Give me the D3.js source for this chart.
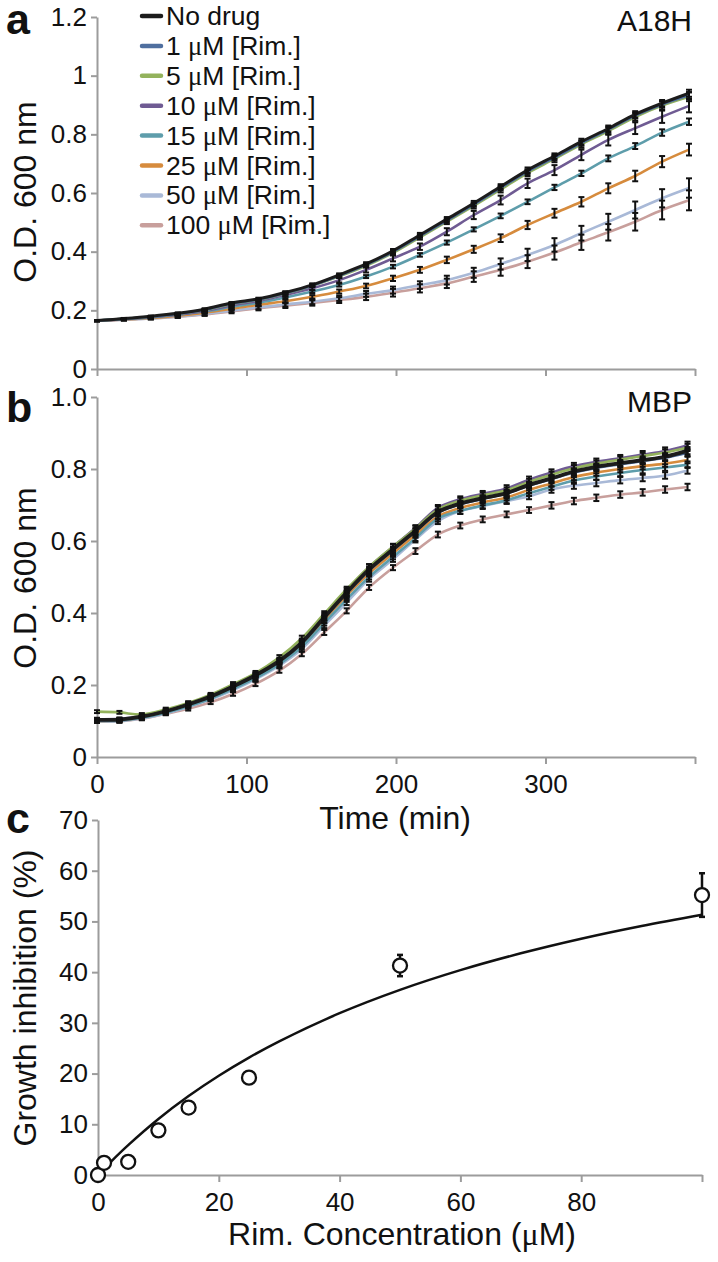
<!DOCTYPE html>
<html><head><meta charset="utf-8">
<script src="https://cdn.jsdelivr.net/npm/d3@7"></script>
<style>
body{margin:0;background:#fff;}
svg{display:block;font-family:"Liberation Sans",Arial,Helvetica,sans-serif;}
</style></head><body>
<svg id="chart" width="718" height="1262"></svg>
<script>
// ---------- DATA ----------
const seriesLabels = ["No drug", "1", "5", "10", "15", "25", "50", "100"];
const seriesColors = ["#1c1c1c", "#4f6f9f", "#93b25c", "#6f5b93", "#5e9dab", "#d68b3d", "#a9b9d7", "#c89f9c"];

const timesA = [0,18,36,54,72,90,108,126,144,162,180,198,216,234,252,270,288,306,324,342,360,378,396];
const odA_noDrug = [.165,.172,.180,.190,.204,.225,.239,.261,.287,.321,.358,.403,.457,.511,.565,.622,.678,.726,.775,.820,.868,.906,.940];
const odA_1  = [.165,.171,.178,.188,.202,.223,.237,.259,.285,.318,.355,.399,.453,.506,.560,.617,.673,.721,.770,.816,.864,.902,.933];
const odA_5  = [.165,.171,.178,.188,.201,.222,.236,.258,.284,.316,.352,.396,.449,.502,.556,.612,.668,.716,.766,.811,.859,.898,.928];
const odA_10 = [.165,.170,.177,.186,.198,.217,.232,.252,.275,.303,.338,.377,.417,.468,.525,.576,.633,.678,.730,.781,.821,.860,.897];
const odA_15 = [.165,.170,.176,.185,.196,.212,.226,.244,.264,.286,.315,.349,.389,.431,.476,.522,.570,.619,.667,.718,.760,.806,.843];
const odA_25 = [.165,.169,.174,.182,.192,.205,.219,.231,.246,.264,.283,.309,.338,.372,.408,.446,.491,.531,.570,.616,.658,.707,.748];
const odA_50 = [.165,.168,.172,.179,.188,.199,.210,.220,.229,.241,.256,.269,.286,.303,.328,.358,.389,.423,.463,.502,.542,.582,.617];
const odA_100= [.165,.168,.172,.178,.186,.196,.207,.216,.225,.235,.246,.260,.275,.292,.315,.338,.366,.397,.432,.466,.502,.542,.575];

const errA_noDrug = [.002,.002,.002,.003,.003,.003,.004,.004,.005,.005,.006,.006,.007,.007,.008,.008,.009,.009,.010,.010,.011,.011,.012];
const errA_1  = [.002,.002,.002,.002,.003,.003,.003,.004,.004,.005,.005,.006,.006,.007,.007,.008,.008,.009,.009,.010,.010,.011,.011];
const errA_5  = [.002,.002,.003,.003,.003,.004,.004,.005,.005,.006,.006,.007,.008,.008,.009,.010,.010,.011,.012,.012,.013,.014,.015];
const errA_10 = [.002,.002,.003,.003,.004,.004,.005,.006,.007,.008,.009,.010,.011,.012,.014,.015,.016,.017,.018,.019,.020,.021,.022];
const errA_15 = [.002,.002,.002,.003,.003,.003,.004,.004,.005,.005,.005,.006,.006,.007,.007,.008,.008,.009,.009,.010,.010,.011,.011];
const errA_25 = [.002,.002,.003,.003,.004,.004,.005,.005,.006,.007,.008,.009,.010,.011,.012,.013,.014,.015,.016,.017,.018,.019,.020];
const errA_50 = [.002,.003,.003,.004,.005,.005,.006,.007,.008,.009,.010,.012,.013,.015,.017,.019,.021,.023,.025,.027,.029,.031,.033];
const errA_100= [.002,.003,.003,.004,.005,.006,.007,.008,.009,.010,.011,.013,.014,.016,.018,.020,.022,.024,.026,.028,.030,.032,.034];

const timesB = [0,15,30,46,61,76,91,106,122,137,152,167,182,198,213,228,243,258,274,289,304,319,334,350,365,380,395];
const odB_noDrug = [.103,.104,.112,.127,.146,.168,.196,.227,.267,.318,.388,.457,.521,.577,.628,.680,.704,.719,.733,.756,.774,.793,.806,.816,.825,.834,.851];
const odB_1  = [.102,.104,.112,.127,.146,.168,.196,.226,.265,.316,.386,.454,.518,.574,.626,.678,.702,.717,.732,.754,.772,.790,.803,.813,.822,.831,.845];
const odB_5  = [.126,.124,.118,.132,.150,.173,.202,.233,.277,.330,.398,.466,.528,.584,.634,.688,.712,.727,.741,.764,.784,.802,.815,.826,.836,.846,.860];
const odB_10 = [.105,.106,.114,.129,.148,.170,.198,.229,.270,.322,.393,.462,.527,.584,.636,.692,.716,.731,.746,.770,.790,.808,.820,.830,.840,.850,.866];
const odB_15 = [.100,.101,.109,.123,.141,.162,.189,.219,.258,.306,.372,.438,.500,.556,.608,.662,.684,.699,.713,.733,.751,.768,.779,.789,.797,.804,.812];
const odB_25 = [.100,.102,.110,.125,.143,.165,.192,.222,.262,.312,.380,.448,.510,.566,.617,.668,.692,.707,.721,.742,.760,.778,.790,.800,.808,.815,.825];
const odB_50 = [.099,.100,.107,.121,.139,.160,.186,.216,.254,.300,.365,.429,.494,.549,.604,.655,.683,.697,.711,.724,.743,.754,.761,.769,.775,.782,.796];
const odB_100= [.099,.099,.106,.120,.134,.152,.175,.203,.240,.286,.346,.406,.471,.526,.572,.618,.643,.660,.674,.686,.699,.711,.720,.729,.735,.743,.750];

const errB_noDrug = [.004,.004,.004,.005,.005,.005,.006,.006,.006,.007,.007,.007,.008,.008,.008,.008,.008,.008,.009,.009,.009,.009,.009,.009,.010,.010,.010];
const errB_1  = [.004,.004,.004,.004,.005,.005,.005,.006,.006,.006,.007,.007,.007,.007,.008,.008,.008,.008,.008,.008,.009,.009,.009,.009,.009,.009,.009];
const errB_5  = [.004,.004,.004,.005,.005,.005,.006,.006,.006,.007,.007,.007,.008,.008,.008,.008,.008,.008,.008,.009,.009,.009,.009,.009,.009,.009,.010];
const errB_10 = [.004,.004,.004,.005,.005,.005,.006,.006,.006,.007,.007,.007,.008,.008,.008,.008,.008,.008,.009,.009,.009,.009,.009,.009,.010,.010,.010];
const errB_15 = [.004,.004,.004,.004,.005,.005,.005,.006,.006,.006,.007,.007,.007,.007,.008,.008,.008,.008,.008,.008,.009,.009,.009,.009,.009,.009,.009];
const errB_25 = [.004,.004,.004,.004,.005,.005,.005,.006,.006,.006,.007,.007,.007,.007,.008,.008,.008,.008,.008,.008,.009,.009,.009,.009,.009,.009,.009];
const errB_50 = [.004,.004,.004,.004,.005,.005,.005,.006,.006,.006,.007,.007,.007,.007,.008,.008,.008,.008,.008,.008,.009,.009,.009,.009,.009,.009,.009];
const errB_100= [.004,.004,.004,.004,.005,.005,.005,.006,.006,.006,.007,.007,.007,.007,.008,.008,.008,.008,.008,.008,.009,.009,.009,.009,.009,.009,.009];

const timeTicks = [0, 100, 200, 300, 400];
const timeTickLabels = ["0", "100", "200", "300", ""];
const yTicksA = [0, 0.2, 0.4, 0.6, 0.8, 1, 1.2];
const yTickLabelsA = ["0", "0.2", "0.4", "0.6", "0.8", "1", "1.2"];
const yTicksB = [0, 0.2, 0.4, 0.6, 0.8, 1.0];
const yTickLabelsB = ["0", "0.2", "0.4", "0.6", "0.8", "1.0"];

const concC = [0, 1, 5, 10, 15, 25, 50, 100];
const inhibC = [0, 2.4, 2.6, 8.8, 13.3, 19.2, 41.3, 55.2];
const errC = [0.5, 0.8, 0.6, 0.9, 0.8, 0.7, 2.1, 4.3];
const fitConc = [0, 2, 5, 10, 15, 20, 25, 30, 40, 50, 60, 70, 80, 90, 100];
const fitInhib = [0, 2.46, 5.89, 11.04, 15.56, 19.57, 23.15, 26.36, 31.9, 36.5, 40.39, 43.71, 46.59, 49.10, 51.31];
const concTicks = [0, 20, 40, 60, 80, 100];
const concTickLabels = ["0", "20", "40", "60", "80", ""];
const inhibTicks = [0, 10, 20, 30, 40, 50, 60, 70];

const seriesA = [odA_noDrug, odA_1, odA_5, odA_10, odA_15, odA_25, odA_50, odA_100];
const errsA = [errA_noDrug, errA_1, errA_5, errA_10, errA_15, errA_25, errA_50, errA_100];
const seriesB = [odB_noDrug, odB_1, odB_5, odB_10, odB_15, odB_25, odB_50, odB_100];
const errsB = [errB_noDrug, errB_1, errB_5, errB_10, errB_15, errB_25, errB_50, errB_100];

// ---------- DRAW ----------
const svg = d3.select("#chart");
const FONT = '"Liberation Sans", Arial, Helvetica, sans-serif';
const SERIF = '"Liberation Serif", "DejaVu Serif", serif';
const AXC = "#9c9c9c";

const xT = d3.scaleLinear().domain([0, 400]).range([97, 695]);
const yA = d3.scaleLinear().domain([0, 1.2]).range([369, 17]);
const yB = d3.scaleLinear().domain([0, 1]).range([757, 397]);
const xC = d3.scaleLinear().domain([0, 100]).range([98, 702]);
const yC = d3.scaleLinear().domain([0, 70]).range([1175, 820]);

function styleAxis(g) {
  g.select(".domain").attr("stroke", AXC).attr("stroke-width", 2);
  g.selectAll(".tick line").attr("stroke", AXC).attr("stroke-width", 2);
  g.selectAll(".tick text").attr("font-size", 26).attr("fill", "#111").attr("font-family", FONT);
}

// Panel a axes
svg.append("g").attr("transform", "translate(97,0)")
  .call(d3.axisLeft(yA).tickValues(yTicksA).tickFormat((d, i) => yTickLabelsA[i]).tickSize(6).tickSizeOuter(0).tickPadding(4))
  .call(styleAxis);
svg.append("g").attr("transform", "translate(0,369)")
  .call(d3.axisBottom(xT).tickValues(timeTicks).tickFormat(() => "").tickSize(7).tickSizeOuter(0))
  .call(styleAxis);

// Panel b axes
svg.append("g").attr("transform", "translate(97,0)")
  .call(d3.axisLeft(yB).tickValues(yTicksB).tickFormat((d, i) => yTickLabelsB[i]).tickSize(6).tickSizeOuter(0).tickPadding(4))
  .call(styleAxis);
svg.append("g").attr("transform", "translate(0,757)")
  .call(d3.axisBottom(xT).tickValues(timeTicks).tickFormat((d, i) => timeTickLabels[i]).tickSize(7).tickSizeOuter(0).tickPadding(11))
  .call(styleAxis);

// Panel c axes
svg.append("g").attr("transform", "translate(98,0)")
  .call(d3.axisLeft(yC).tickValues(inhibTicks).tickFormat(d3.format("d")).tickSize(6).tickSizeOuter(0).tickPadding(4))
  .call(styleAxis);
svg.append("g").attr("transform", "translate(0,1175)")
  .call(d3.axisBottom(xC).tickValues(concTicks).tickFormat((d, i) => concTickLabels[i]).tickSize(7).tickSizeOuter(0).tickPadding(11))
  .call(styleAxis);

// growth curves
function drawPanel(times, series, errs, y, blackWidth) {
  const g = svg.append("g");
  const order = [7, 6, 5, 4, 3, 2, 1, 0];
  order.forEach(k => {
    const line = d3.line().x((d, i) => xT(times[i])).y(d => y(d)).curve(d3.curveCatmullRom.alpha(0.5));
    g.append("path").datum(series[k]).attr("d", line)
      .attr("fill", "none").attr("stroke", seriesColors[k])
      .attr("stroke-width", k === 0 ? blackWidth : 2.6).attr("stroke-linejoin", "round");
  });
  const eg = svg.append("g").attr("stroke", "#111").attr("stroke-width", 2);
  order.forEach(k => {
    series[k].forEach((v, i) => {
      const e = errs[k][i];
      const x = xT(times[i]);
      eg.append("line").attr("x1", x).attr("x2", x).attr("y1", y(v - e)).attr("y2", y(v + e));
      eg.append("line").attr("x1", x - 3).attr("x2", x + 3).attr("y1", y(v - e)).attr("y2", y(v - e));
      eg.append("line").attr("x1", x - 3).attr("x2", x + 3).attr("y1", y(v + e)).attr("y2", y(v + e));
    });
  });
}
drawPanel(timesA, seriesA, errsA, yA, 3);
drawPanel(timesB, seriesB, errsB, yB, 3.8);

// Panel c fit curve + points
const fitLine = d3.line().x((d, i) => xC(fitConc[i])).y(d => yC(d)).curve(d3.curveCatmullRom.alpha(0.5));
svg.append("path").datum(fitInhib).attr("d", fitLine).attr("fill", "none").attr("stroke", "#111").attr("stroke-width", 2.5);
const cg = svg.append("g").attr("stroke", "#111").attr("stroke-width", 2.5);
concC.forEach((c, i) => {
  const x = xC(c), v = inhibC[i], e = errC[i];
  cg.append("line").attr("x1", x).attr("x2", x).attr("y1", yC(v - e)).attr("y2", yC(v + e));
  cg.append("line").attr("x1", x - 3).attr("x2", x + 3).attr("y1", yC(v - e)).attr("y2", yC(v - e));
  cg.append("line").attr("x1", x - 3).attr("x2", x + 3).attr("y1", yC(v + e)).attr("y2", yC(v + e));
});
svg.append("g").selectAll("circle").data(inhibC).join("circle")
  .attr("cx", (d, i) => xC(concC[i])).attr("cy", d => yC(d)).attr("r", 7)
  .attr("fill", "#fff").attr("stroke", "#111").attr("stroke-width", 2.3);

// Legend
const lg = svg.append("g");
seriesLabels.forEach((lab, i) => {
  const yy = 16 + i * 29.9;
  lg.append("line").attr("x1", 142).attr("x2", 161).attr("y1", yy).attr("y2", yy)
    .attr("stroke", seriesColors[i]).attr("stroke-width", 4.5).attr("stroke-linecap", "round");
  const t = lg.append("text").attr("x", 166).attr("y", yy + 9).attr("font-size", 26.5).attr("fill", "#111").attr("font-family", FONT);
  if (i === 0) { t.text(lab); }
  else {
    t.append("tspan").text(lab + " ");
    t.append("tspan").attr("font-family", SERIF).text("\u03bc");
    t.append("tspan").text("M [Rim.]");
  }
});

// Texts
function txt(x, y, s, size, opts = {}) {
  const t = svg.append("text").attr("x", x).attr("y", y).attr("font-size", size).attr("fill", "#111")
    .attr("font-family", FONT).attr("text-anchor", opts.anchor || "start")
    .attr("font-weight", opts.weight || "normal");
  if (opts.rotate) t.attr("transform", `rotate(-90,${x},${y})`);
  t.text(s);
  return t;
}
txt(6, 34, "a", 43, {weight: "bold"});
txt(6, 422, "b", 43, {weight: "bold"});
txt(6, 833, "c", 43, {weight: "bold"});
txt(692, 31, "A18H", 30, {anchor: "end"});
txt(692, 412, "MBP", 30, {anchor: "end"});
txt(36, 192, "O.D. 600 nm", 32, {anchor: "middle", rotate: true});
txt(36, 578, "O.D. 600 nm", 32, {anchor: "middle", rotate: true});
txt(36, 998, "Growth inhibition (%)", 32, {anchor: "middle", rotate: true});
txt(395, 829, "Time (min)", 32, {anchor: "middle"});
const xl = txt(402, 1245, "Rim. Concentration (", 32, {anchor: "middle"});
xl.append("tspan").attr("font-family", SERIF).text("\u03bc");
xl.append("tspan").text("M)");
</script>
</body></html>
